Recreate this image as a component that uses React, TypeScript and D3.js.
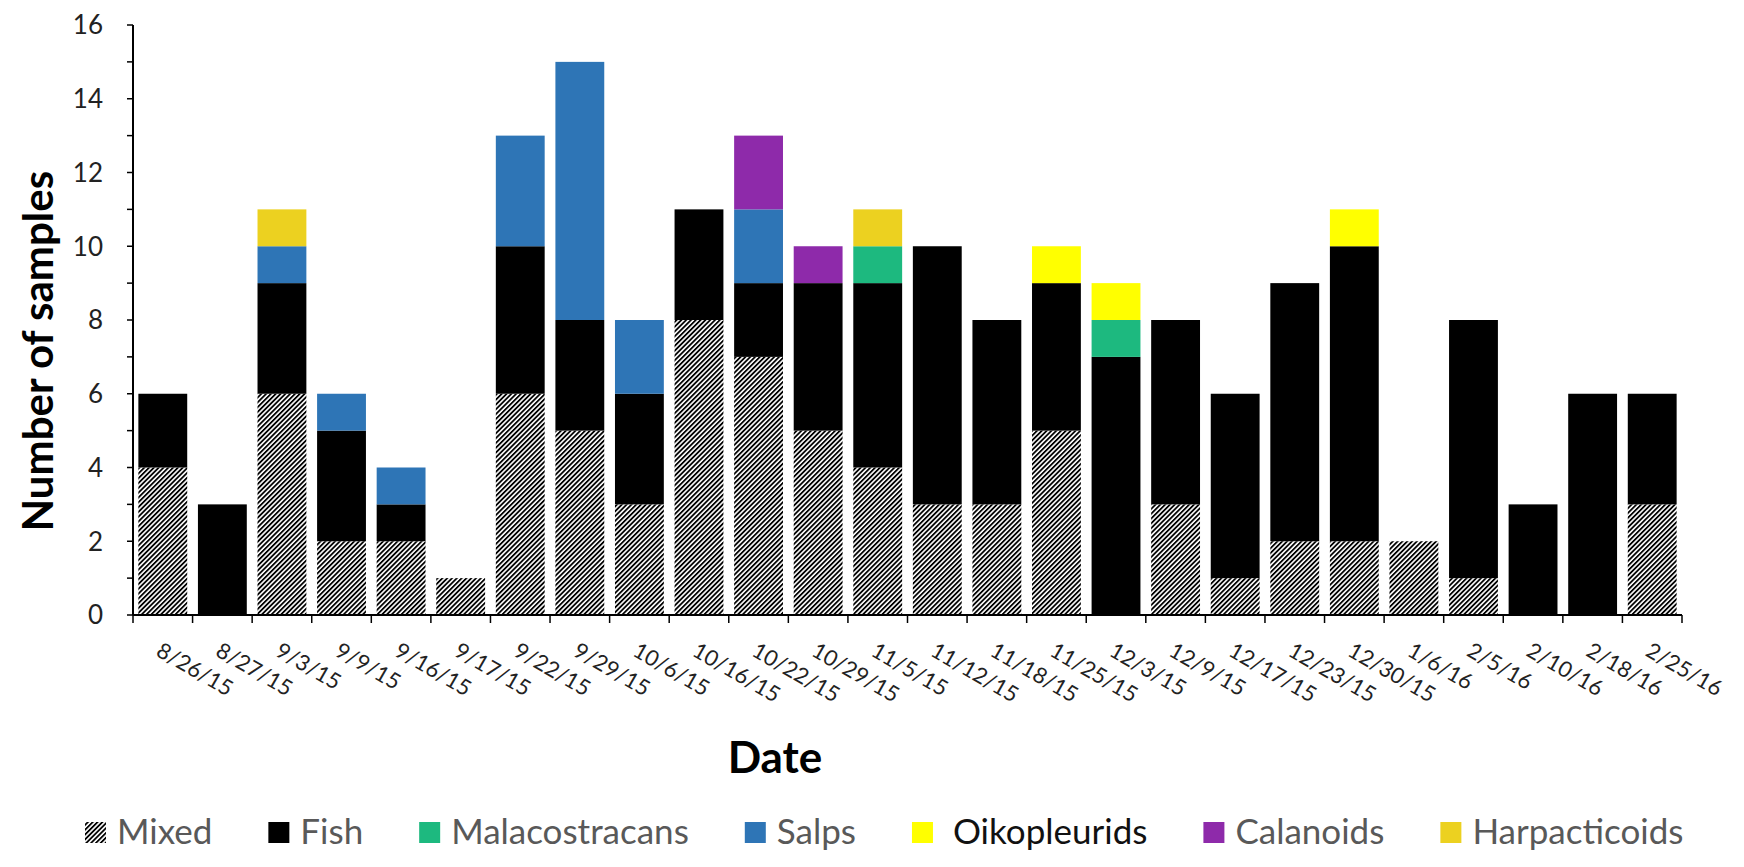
import * as d3 from "d3";
import { useRef, useEffect } from "react";

const dates = [
  "8/26/15", "8/27/15", "9/3/15", "9/9/15", "9/16/15", "9/17/15", "9/22/15",
  "9/29/15", "10/6/15", "10/16/15", "10/22/15", "10/29/15", "11/5/15",
  "11/12/15", "11/18/15", "11/25/15", "12/3/15", "12/9/15", "12/17/15",
  "12/23/15", "12/30/15", "1/6/16", "2/5/16", "2/10/16", "2/18/16", "2/25/16",
];
const mixed = [4, 0, 6, 2, 2, 1, 6, 5, 3, 8, 7, 5, 4, 3, 3, 5, 0, 3, 1, 2, 2, 2, 1, 0, 0, 3];
const fish = [2, 3, 3, 3, 1, 0, 4, 3, 3, 3, 2, 4, 5, 7, 5, 4, 7, 5, 5, 7, 8, 0, 7, 3, 6, 3];
const malacostracans = [0, 0, 0, 0, 0, 0, 0, 0, 0, 0, 0, 0, 1, 0, 0, 0, 1, 0, 0, 0, 0, 0, 0, 0, 0, 0];
const salps = [0, 0, 1, 1, 1, 0, 3, 7, 2, 0, 2, 0, 0, 0, 0, 0, 0, 0, 0, 0, 0, 0, 0, 0, 0, 0];
const oikopleurids = [0, 0, 0, 0, 0, 0, 0, 0, 0, 0, 0, 0, 0, 0, 0, 1, 1, 0, 0, 0, 1, 0, 0, 0, 0, 0];
const calanoids = [0, 0, 0, 0, 0, 0, 0, 0, 0, 0, 2, 1, 0, 0, 0, 0, 0, 0, 0, 0, 0, 0, 0, 0, 0, 0];
const harpacticoids = [0, 0, 1, 0, 0, 0, 0, 0, 0, 0, 0, 0, 1, 0, 0, 0, 0, 0, 0, 0, 0, 0, 0, 0, 0, 0];

const seriesNames = ["Mixed", "Fish", "Malacostracans", "Salps", "Oikopleurids", "Calanoids", "Harpacticoids"];
const seriesColors = ["url(#hatch)", "#000000", "#1db97f", "#2e75b6", "#ffff00", "#8e2aaa", "#ecd120"];
const yTicks = [0, 2, 4, 6, 8, 10, 12, 14, 16];

export default function App() {
  const svgRef = useRef(null);

  useEffect(() => {
    const width = 1744;
    const height = 867;
    const left = 133, right = 1682, top = 25, bottom = 615;
    const font = "Lato, 'Open Sans', sans-serif";

    const svg = d3.select(svgRef.current).attr("width", width).attr("height", height);
    svg.selectAll("*").remove();

    const defs = svg.append("defs");
    const pat = defs
      .append("pattern")
      .attr("id", "hatch")
      .attr("patternUnits", "userSpaceOnUse")
      .attr("width", 3.4)
      .attr("height", 3.4)
      .attr("patternTransform", "rotate(45)");
    pat.append("rect").attr("width", 3.4).attr("height", 3.4).attr("fill", "#fff");
    pat.append("rect").attr("width", 1.8).attr("height", 3.4).attr("fill", "#000");

    const table = dates.map((d, i) => ({
      date: d,
      Mixed: mixed[i],
      Fish: fish[i],
      Malacostracans: malacostracans[i],
      Salps: salps[i],
      Oikopleurids: oikopleurids[i],
      Calanoids: calanoids[i],
      Harpacticoids: harpacticoids[i],
    }));

    const x = d3.scaleBand().domain(dates).range([left, right]).paddingInner(0.18).paddingOuter(0.09);
    const y = d3.scaleLinear().domain([0, 16]).range([bottom, top]);
    const stack = d3.stack<any>().keys(seriesNames)(table);

    stack.forEach((layer, si) => {
      svg
        .append("g")
        .selectAll("rect")
        .data(layer.filter((d) => d[1] > d[0]))
        .enter()
        .append("rect")
        .attr("x", (d: any) => x(d.data.date)!)
        .attr("width", x.bandwidth())
        .attr("y", (d) => y(d[1]))
        .attr("height", (d) => y(d[0]) - y(d[1]))
        .attr("fill", seriesColors[si]);
    });

    // y axis
    const yAxis = svg.append("g").attr("font-family", font);
    yAxis.append("line").attr("x1", left).attr("x2", left).attr("y1", top).attr("y2", bottom).attr("stroke", "#000").attr("stroke-width", 2);
    d3.range(0, 17).forEach((v) => {
      yAxis.append("line").attr("x1", left - 6).attr("x2", left).attr("y1", y(v)).attr("y2", y(v)).attr("stroke", "#000").attr("stroke-width", 1.5);
    });
    yAxis
      .selectAll("text")
      .data(yTicks)
      .enter()
      .append("text")
      .attr("x", 103)
      .attr("y", (d) => y(d))
      .attr("dy", "0.36em")
      .attr("text-anchor", "end")
      .attr("font-size", 26)
      .attr("fill", "#222")
      .text((d) => d);

    // x axis
    const xAxis = svg.append("g").attr("font-family", font);
    xAxis.append("line").attr("x1", left).attr("x2", right).attr("y1", bottom).attr("y2", bottom).attr("stroke", "#000").attr("stroke-width", 2);
    d3.range(0, dates.length + 1).forEach((i) => {
      const px = left + ((right - left) / dates.length) * i;
      xAxis.append("line").attr("x1", px).attr("x2", px).attr("y1", bottom).attr("y2", bottom + 8).attr("stroke", "#000").attr("stroke-width", 1.5);
    });
    xAxis
      .selectAll("text")
      .data(dates)
      .enter()
      .append("text")
      .attr("transform", (d) => `translate(${x(d)! + x.bandwidth() / 2 - 8},655) rotate(30)`)
      .attr("font-size", 22)
      .attr("fill", "#222")
      .text((d) => d);

    // titles
    svg
      .append("text")
      .attr("transform", "translate(53,351) rotate(-90)")
      .attr("text-anchor", "middle")
      .attr("font-family", font)
      .attr("font-weight", "bold")
      .attr("font-size", 42)
      .text("Number of samples");
    svg
      .append("text")
      .attr("x", 775)
      .attr("y", 773)
      .attr("text-anchor", "middle")
      .attr("font-family", font)
      .attr("font-weight", "bold")
      .attr("font-size", 44)
      .text("Date");

    // legend
    const legend = svg.append("g").attr("font-family", font);
    let lx = 85;
    seriesNames.forEach((name, i) => {
      legend.append("rect").attr("x", lx).attr("y", 822).attr("width", 21).attr("height", 21).attr("fill", seriesColors[i]);
      const isOiko = name === "Oikopleurids";
      const t = legend
        .append("text")
        .attr("x", lx + 32)
        .attr("y", 844)
        .attr("font-size", 35)
        .attr("fill", isOiko ? "#111" : "#595959")
        .text(isOiko ? "\u00A0" + name : name);
      const w = (t.node() as SVGTextElement).getComputedTextLength();
      lx += 32 + w + 56;
    });
  }, []);

  return (
    <>
      <svg ref={svgRef} style={{ position: "absolute", left: 0, top: 0, background: "#fff" }} />
    </>
  );
}
